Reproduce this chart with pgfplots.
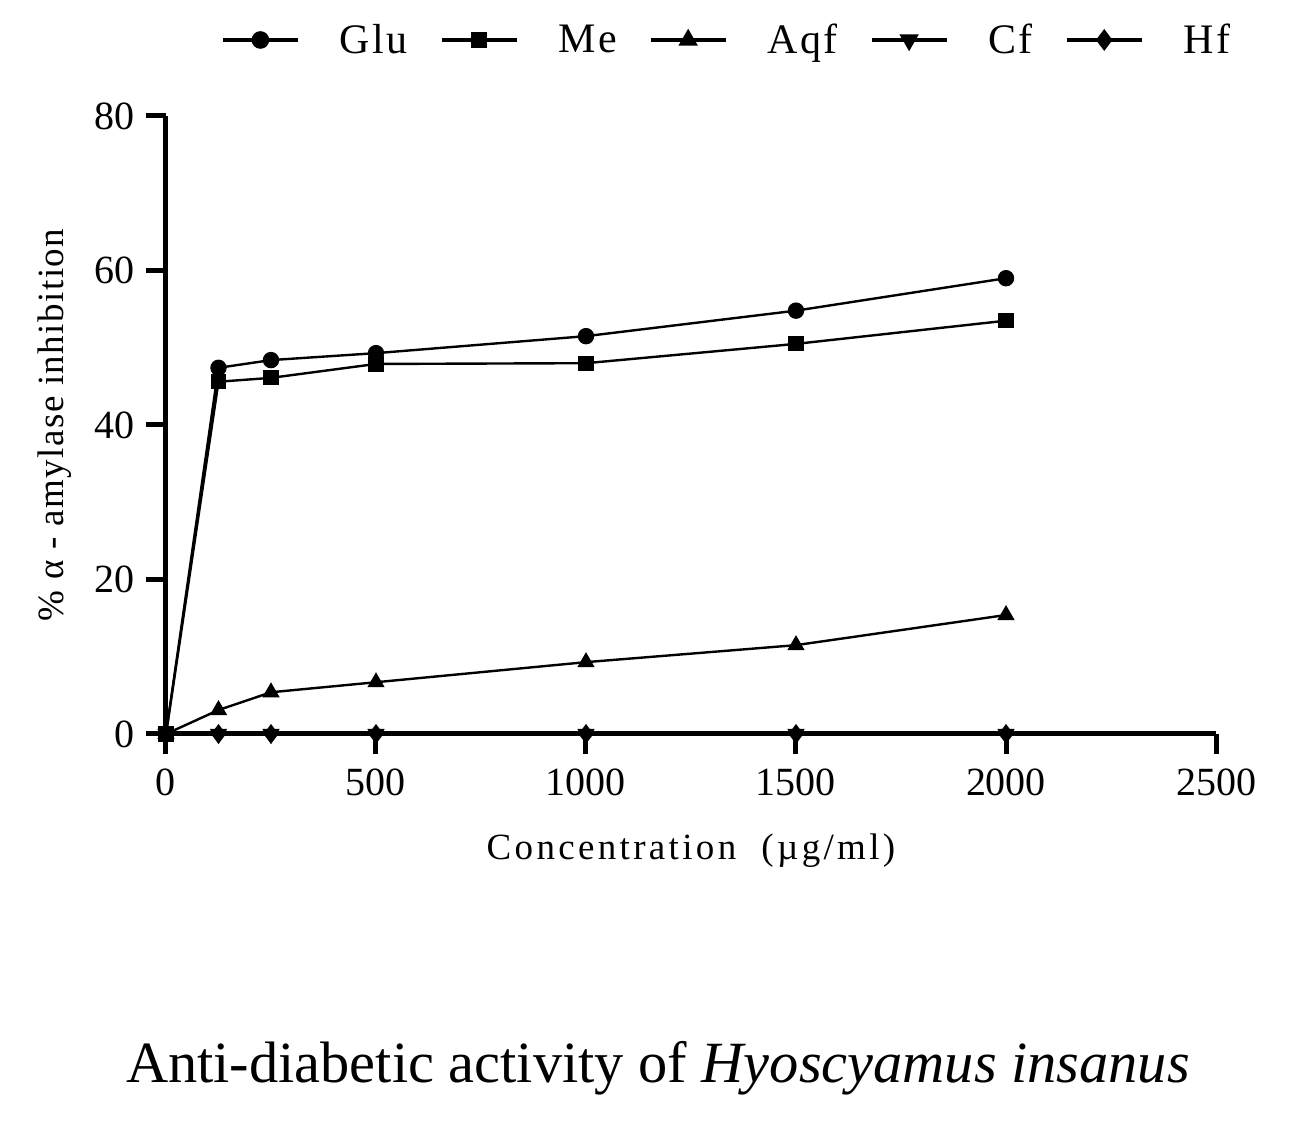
\documentclass[border=0pt]{standalone}
\usepackage{fontspec}
\setmainfont{Liberation Serif}
\usepackage{pgfplots}
\pgfplotsset{compat=1.18}
\begin{document}
\begin{tikzpicture}
\useasboundingbox (0,0) rectangle (649pt,561pt);
\begin{axis}[
  at={(83pt,194pt)}, anchor=south west,
  scale only axis, width=525pt, height=309pt,
  xmin=0, xmax=2500, ymin=0, ymax=80,
  axis x line*=bottom, axis y line*=left,
  axis line style={line width=2.5pt, -},
  xtick={0,500,...,2500}, ytick={0,20,...,80},
  tick align=outside, major tick length=10pt,
  tick style={line width=2.5pt, black},
  minor tick num=0,
  /pgf/number format/assume math mode=true,
  /pgf/number format/1000 sep={},
  ticklabel style={font=\fontsize{20}{24}\selectfont},
  xticklabel style={yshift=-4pt},
  yticklabel style={xshift=-2pt},
  xlabel={Concentration\ \ (\textmu g/ml)},
  xlabel style={at={(axis description cs:0.5,-0.188)}, anchor=center, font=\fontsize{18.5}{22}\selectfont\addfontfeatures{LetterSpace=9}},
  ylabel={\% α - amylase inhibition},
  ylabel style={at={(axis description cs:-0.106,0.5)}, anchor=center, font=\fontsize{18.5}{22}\selectfont\addfontfeatures{LetterSpace=4}},
  every axis plot/.append style={line width=1.2pt, black, mark size=3.5pt, mark options={solid}},
  legend columns=5,
  legend style={draw=none, fill=none, at={(axis description cs:0.535,1.123)}, anchor=center,
    font=\fontsize{21}{24}\selectfont\addfontfeatures{LetterSpace=6},
    /tikz/every odd column/.append style={column sep=18pt},
    /tikz/every even column/.append style={column sep=14pt}},
  legend image code/.code={\draw[line width=1.8pt, mark repeat=2,mark phase=2] plot coordinates {(0pt,0pt) (18.75pt,0pt) (37.5pt,0pt)};},
  clip=false,
]
\addplot[mark=*] coordinates {(0,0) (125,47.4) (250,48.4) (500,49.3) (1000,51.5) (1500,54.8) (2000,59.0)};
\addlegendentry{Glu}
\addplot[mark=square*, mark size=3.2pt] coordinates {(0,0) (125,45.6) (250,46.1) (500,47.9) (1000,48.0) (1500,50.5) (2000,53.5)};
\addlegendentry{Me}
\addplot[mark=triangle*, mark size=3.8pt] coordinates {(0,0) (125,3.1) (250,5.4) (500,6.7) (1000,9.3) (1500,11.5) (2000,15.4)};
\addlegendentry{Aqf}
\addplot[mark=triangle*, mark size=3.8pt, mark options={rotate=180}] coordinates {(0,0) (125,0) (250,0) (500,0) (1000,0) (1500,0) (2000,0)};
\addlegendentry{Cf}
\addplot[mark=diamond*, mark size=4pt] coordinates {(0,0) (125,0) (250,0) (500,0) (1000,0) (1500,0) (2000,0)};
\addlegendentry{Hf}
\end{axis}
\node[font=\fontsize{29.2}{35}\selectfont] at (329pt,27pt) {Anti-diabetic activity of \textit{Hyoscyamus insanus}};
\end{tikzpicture}
\end{document}
